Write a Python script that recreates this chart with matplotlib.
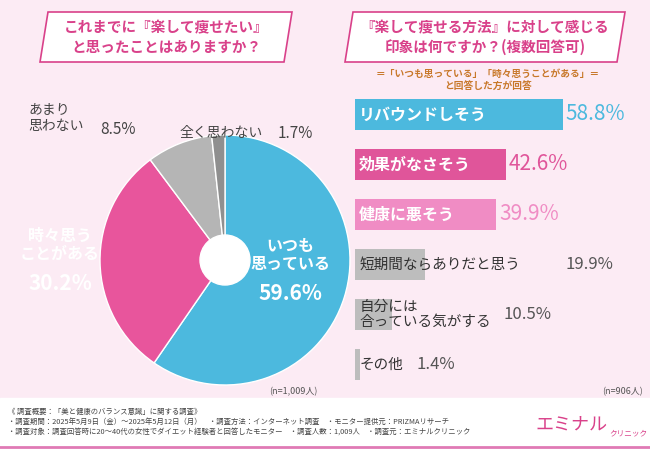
import matplotlib.pyplot as plt
from matplotlib.patches import Polygon, Rectangle, Circle

plt.rcParams['font.family'] = 'Noto Sans CJK JP'

# ---- data ----
pie_labels = ['いつも\n思っている', '時々思う\nことがある', 'あまり\n思わない', '全く思わない']
pie_values = [59.6, 30.2, 8.5, 1.7]
pie_colors = ['#4cb9de', '#e8559c', '#b5b5b5', '#8f8f8f']

bar_labels = ['リバウンドしそう', '効果がなさそう', '健康に悪そう',
              '短期間ならありだと思う', '自分には\n合っている気がする', 'その他']
bar_values = [58.8, 42.6, 39.9, 19.9, 10.5, 1.4]
bar_colors = ['#4cb9de', '#e0559a', '#f08cc4', '#bdbdbd', '#bdbdbd', '#bdbdbd']

W, H = 650, 450
fig = plt.figure(figsize=(6.5, 4.5), dpi=100)
fig.patch.set_facecolor('#fcebf4')

# background/decoration axes in pixel coords
bg = fig.add_axes([0, 0, 1, 1])
bg.set_xlim(0, W)
bg.set_ylim(H, 0)
bg.axis('off')
bg.add_patch(Rectangle((0, 398), W, 52, color='white', zorder=1))
bg.plot([0, W], [447, 447], color='#e07ab5', lw=2)

pink = '#d9418a'
# title boxes (slanted)
for x0, x1 in [(40, 292), (345, 625)]:
    bg.add_patch(Polygon([(x0 + 8, 12), (x1, 12), (x1 - 8, 62), (x0, 62)],
                         closed=True, fc='white', ec=pink, lw=1.2, zorder=2))
bg.text(166, 37, 'これまでに『楽して痩せたい』\nと思ったことはありますか？', ha='center', va='center',
        fontsize=10.5, color=pink, fontweight='bold', linespacing=1.3, zorder=3)
bg.text(485, 37, '『楽して痩せる方法』に対して感じる\n印象は何ですか？(複数回答可)', ha='center', va='center',
        fontsize=10.5, color=pink, fontweight='bold', linespacing=1.3, zorder=3)
bg.text(488, 80, '＝「いつも思っている」「時々思うことがある」＝\nと回答した方が回答', ha='center', va='center',
        fontsize=7, color='#c8782a', fontweight='bold', linespacing=1.2)

bg.text(318, 396, '(n=1,009人)', ha='right', va='bottom', fontsize=6.5, color='#555555')
bg.text(643, 396, '(n=906人)', ha='right', va='bottom', fontsize=6.5, color='#555555')

notes = ('《 調査概要：「美と健康のバランス意識」に関する調査》\n'
         '・調査期間：2025年5月9日（金）～2025年5月12日（月）　・調査方法：インターネット調査　・モニター提供元：PRIZMAリサーチ\n'
         '・調査対象：調査回答時に20～40代の女性でダイエット経験者と回答したモニター　・調査人数：1,009人　・調査元：エミナルクリニック')
bg.text(8, 422, notes, ha='left', va='center', fontsize=5.3, color='#444444', linespacing=1.35)
bg.text(535, 425, 'エミナル', ha='left', va='center', fontsize=13, color='#d9418a')
bg.text(609, 433, 'クリニック', ha='left', va='center', fontsize=5.5, color='#d9418a')

# ---- pie ----
pax = fig.add_axes([100 / W, 1 - 385 / H, 250 / W, 250 / H])
pax.pie(pie_values, colors=pie_colors, startangle=90, counterclock=False,
        wedgeprops=dict(ec='white', lw=1))
pax.add_patch(Circle((0, 0), 0.2, color='white'))
pax.set_aspect('equal')
pax.set_xlim(-1, 1)
pax.set_ylim(-1, 1)

# overlay for labels on top of the pie
top = fig.add_axes([0, 0, 1, 1])
top.set_xlim(0, W)
top.set_ylim(H, 0)
top.axis('off')
top.patch.set_alpha(0)

lab_pos = [(290, 268, 'white', 'center'), (60, 258, 'white', 'center'),
           (28, 118, '#444444', 'left'), (180, 133, '#444444', 'left')]
pct_x = [None, None, 100, 278]
for (x, y, c, ha), lab, v, px in zip(lab_pos, pie_labels, pie_values, pct_x):
    if ha == 'center':
        top.text(x, y - 13, lab, ha='center', va='center', fontsize=11.5, color=c,
                 fontweight='bold', linespacing=1.2)
        top.text(x, y + 25, f'{v}%', ha='center', va='center', fontsize=15, color=c,
                 fontweight='bold')
    else:
        top.text(x, y, lab, ha='left', va='center', fontsize=10, color=c, linespacing=1.2)
        top.text(px, y + (12 if '\n' in lab else 0), f'{v}%', ha='left', va='center',
                 fontsize=11, color=c)

# ---- bars ----
bax = fig.add_axes([355 / W, 1 - 392 / H, 285 / W, 300 / H])
bax.set_facecolor('none')
ypos = list(range(len(bar_values)))
bax.barh(ypos, bar_values, color=bar_colors, height=0.62)
bax.set_xlim(0, 285 / 3.54)
bax.set_ylim(5.55, -0.45)
bax.axis('off')
gray_pct_x = {3: 59.5, 4: 42, 5: 17.5}
for i, (lab, v, c) in enumerate(zip(bar_labels, bar_values, bar_colors)):
    if i < 3:
        bax.text(1, i, lab, ha='left', va='center', fontsize=11.5, color='white', fontweight='bold')
        bax.text(v + 0.8, i, f'{v}%', ha='left', va='center', fontsize=15, color=c)
    else:
        bax.text(1.2, i, lab, ha='left', va='center', fontsize=10.5, color='#333333', linespacing=1.1)
        bax.text(gray_pct_x[i], i, f'{v}%', ha='left', va='center', fontsize=12, color='#555555')

fig.savefig('out.png', dpi=100, facecolor=fig.get_facecolor())
